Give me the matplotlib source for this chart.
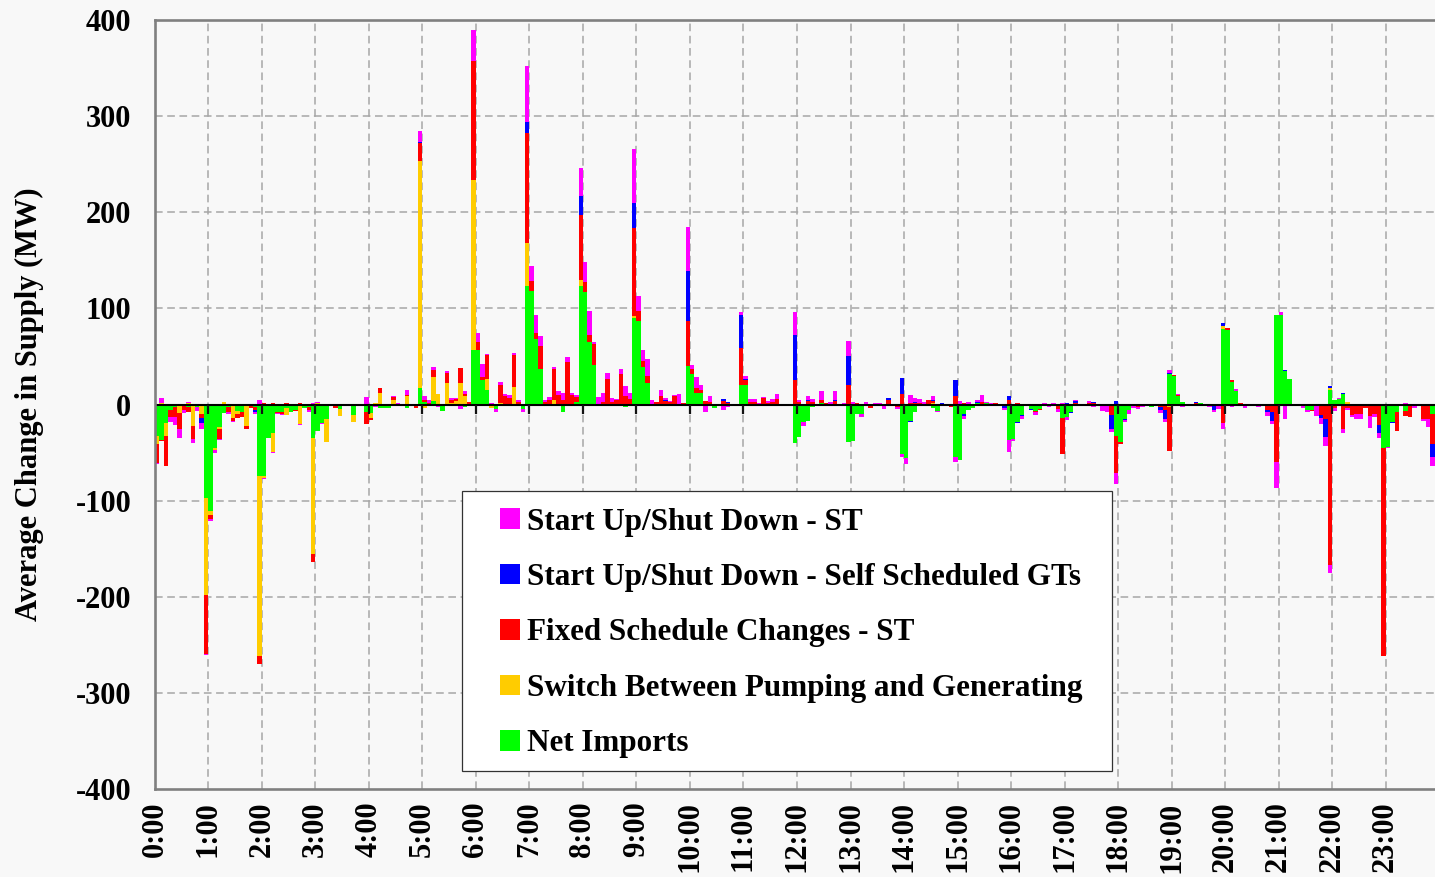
import matplotlib.pyplot as plt
import numpy as np
from matplotlib.patches import Patch, Rectangle

plt.rcParams["font.family"] = ["Liberation Serif", "DejaVu Serif"]
plt.rcParams["font.weight"] = "bold"

HOUR_LABELS = [f"{h}:00" for h in range(24)]
Y_TICKS = [-400, -300, -200, -100, 0, 100, 200, 300, 400]

# Average change in supply (MW) per 5-minute interval, one row per hour (12 intervals)
net_imports = [
    [-33, -37, -19, -6, -3, -2, -1, -3, -2, -3, -2, -97],
    [-111, -45, -23, -9, -3, -2, -7, -8, -2, -2, -3, -74],
    [-74, -35, -30, -8, -8, -4, -8, -6, -2, -4, -3, -35],
    [-28, -19, -15, -2, -1, -5, 0, 0, -11, 0, -2, -8],
    [-9, 0, -4, -4, -4, 0, 0, 0, -4, 0, 0, 17],
    [3, 1, 4, 0, -7, -2, 0, 0, 0, -3, 0, 57],
    [57, 25, 15, -2, -5, 0, 0, 0, 0, 0, -5, 123],
    [118, 68, 37, 0, 0, 0, 0, -8, 0, 0, 3, 123],
    [117, 65, 41, 0, 0, 0, -2, 0, 0, -3, 0, 90],
    [87, 39, 22, 0, 0, 0, 0, 0, 0, 0, 0, 40],
    [32, 12, 12, 0, 0, -4, -2, 0, 0, 0, 0, 20],
    [20, 0, 0, 0, -2, 0, 0, 0, 0, 0, -1, -40],
    [-34, -18, -17, -3, 0, 2, 1, 0, 0, 0, 0, -39],
    [-38, -10, -10, 0, 0, 0, 0, 0, 0, 0, -1, -52],
    [-56, -17, -8, 0, 0, 0, -4, -7, 0, -1, 0, -55],
    [-58, -10, -6, -4, 2, 0, 2, 0, 0, 0, -1, -37],
    [-36, -18, -11, 0, -5, -7, -5, 0, 0, 0, 0, -14],
    [-13, -8, 0, 0, 0, 0, 0, 0, 0, 0, 0, -33],
    [-39, -15, -6, -1, 0, 0, -2, -3, 0, 0, 0, 32],
    [30, 9, 3, 0, 0, 0, 2, 0, 0, 0, 0, 79],
    [78, 23, 14, 0, -2, 0, 0, 0, 0, 0, 0, 93],
    [93, 35, 27, 0, 0, 0, -6, -6, 0, 0, 0, 15],
    [5, 6, 11, 0, 0, 0, -2, 0, 0, 1, 0, -45],
    [-44, -18, -8, 0, -7, 0, -2, 0, 0, -2, -10, -10],
]
pump_gen = [
    [-8, 2, -14, 0, 0, -7, 0, 2, -20, 0, -8, -101],
    [-4, -2, -3, 3, 0, -12, -3, 0, -20, 0, 0, -188],
    [-2, 0, -19, 0, 0, -7, 0, 0, -18, 0, 0, -121],
    [2, 0, -24, 0, 0, -7, 0, 0, -7, 0, 0, 0],
    [-5, 2, 12, 0, 0, 5, 0, 0, 9, 0, 0, 236],
    [-4, 0, 25, 11, 0, 22, 2, 4, 22, 9, 0, 177],
    [0, 0, 12, -2, 0, 2, 0, 0, 18, 0, 0, 45],
    [0, 0, 0, 0, 0, 5, 0, 0, 0, 0, 0, 7],
    [0, 0, 0, 0, 0, 0, 0, 0, 0, 0, 0, 2],
    [0, 0, 0, 0, 0, 0, 0, 0, 0, 0, 0, 0],
    [0, 0, 0, 0, 0, 0, 0, 0, 0, 0, 0, 0],
    [0, 0, 0, 0, 0, 0, 0, 0, 0, 0, 0, 0],
    [0, 0, 0, 0, 0, 0, 0, 0, 0, 0, 0, 0],
    [0, 0, 0, 0, 0, 0, 0, 0, 0, 0, 0, 0],
    [0, 0, 0, 0, 0, 0, 2, 0, 0, 0, 0, 0],
    [0, 0, 0, 0, 0, 0, 0, 0, 0, 0, 0, 0],
    [0, 0, 0, 0, 0, 0, 0, 0, 0, 0, 0, 0],
    [0, 0, 0, 0, 0, 0, 0, 0, 0, 0, 0, 0],
    [0, 0, 0, 0, 0, 0, 0, 0, 0, 0, 0, -3],
    [0, 0, 0, 0, 0, 0, 0, 0, 0, 0, 0, 3],
    [0, 0, 0, 0, 0, 0, 0, 0, 0, 0, 0, 0],
    [0, 0, 0, 0, 0, 0, 0, 0, 0, 0, 0, 2],
    [0, 0, -2, 3, 0, 0, 0, 0, 0, 0, 0, 0],
    [0, 0, 0, 0, 0, 0, 0, 0, 0, 0, 0, 0],
]
fixed_st = [
    [-20, -1, -31, -7, -10, -17, -5, -5, -14, 0, -4, -62],
    [-4, 0, -10, 0, -5, -3, -4, -5, -4, -2, -3, -8],
    [2, 0, 2, -1, -2, 2, 0, -1, 2, 1, -3, -8],
    [0, 0, 0, 0, -3, 0, 0, 0, 0, 0, 0, -12],
    [-2, 0, 5, 0, 0, 3, 0, 0, 1, 0, -4, 19],
    [2, 1, 7, 0, 0, 11, 3, 2, 16, 2, 3, 123],
    [8, 4, 24, 0, 0, 18, 9, 7, 33, 3, 0, 114],
    [10, 6, 24, 3, 5, 32, 10, 5, 44, 10, 5, 67],
    [10, 7, 22, 0, 3, 27, 3, 5, 32, 9, 6, 92],
    [10, 6, 8, 0, 3, 9, 4, 3, 9, 0, 2, 47],
    [5, 5, 3, 4, 3, 0, 0, 4, 2, 0, 1, 39],
    [6, 3, 3, 0, 7, 2, 3, 6, 1, 1, 0, 26],
    [3, 0, 4, 3, -1, 3, 1, 1, 4, 0, 0, 20],
    [0, 2, 0, 0, -4, 0, 1, 0, 5, 0, -2, 11],
    [0, 2, 2, 2, 0, 5, 2, 0, 0, 0, -3, 9],
    [0, 2, 1, 0, 0, 3, 0, 0, 2, 0, 0, 5],
    [0, 2, 0, 0, 0, -1, -1, 0, 0, 0, -5, -38],
    [1, 0, 2, 0, -1, 2, 2, 0, 0, 0, -11, -38],
    [-2, 0, 0, 0, -3, 0, 0, 0, -2, -3, -6, -45],
    [1, 1, 0, 0, 0, 2, 0, 0, 1, -2, -1, -19],
    [2, 3, 0, 2, 0, 1, 1, 0, -2, -6, -8, -60],
    [-2, 0, 0, 1, 0, 0, 0, -1, 0, -11, -15, -167],
    [-4, -2, -24, -4, -11, -10, -8, -4, -12, -10, -21, -217],
    [0, 0, -20, 0, -5, -13, 0, -2, -15, -13, -31, -20],
]
self_sched_gt = [
    [0, 0, 0, 0, 0, 0, 0, 0, 0, 0, -5, 0],
    [0, 0, 0, 0, 0, 0, 0, 0, 0, 0, -2, 0],
    [0, 0, 0, 0, 0, 0, 0, 0, 0, 0, 0, 0],
    [0, 0, 0, 0, 0, 0, 0, 0, 0, 0, 0, 1],
    [0, 0, 0, 0, 0, 0, 0, 0, 0, 0, 0, 1],
    [0, 0, 0, 0, 0, 0, 0, 0, 0, 0, 0, 0],
    [0, 0, 0, 0, 0, 0, 0, 0, 0, 0, 0, 12],
    [0, 0, 0, 0, 0, 0, 0, 0, 0, 0, 0, 20],
    [0, 0, 0, 0, 0, 0, 0, 0, 0, 0, 0, 26],
    [0, 0, -2, 0, 0, 0, 1, 0, -2, 0, 0, 52],
    [-1, 0, 0, -2, 0, 0, 0, 2, 1, -2, 0, 34],
    [1, 0, 0, 0, 0, 0, -2, 0, 0, 0, 0, 46],
    [0, 0, 1, 0, 0, 0, 0, 0, 1, 0, 0, 30],
    [0, 0, 0, 0, 0, 0, -2, -1, 2, -2, 0, 17],
    [0, -1, 1, -2, 0, 0, 1, 0, 2, 0, 0, 17],
    [0, -2, 0, 0, 1, 0, 0, -1, -2, 0, -3, 4],
    [0, -1, -1, 0, -1, 0, 0, -2, 1, -1, 0, 0],
    [1, -1, 2, 1, 0, 0, 1, 0, 0, -2, -14, 4],
    [0, -1, 0, 0, 0, 0, 0, 0, 0, -3, -9, 1],
    [0, 0, 0, 0, 0, 1, 0, 0, 0, -4, 0, 3],
    [0, 0, 0, 0, 0, 0, 0, 0, 0, -2, -9, 0],
    [0, 1, 0, 0, -1, 0, 0, 0, 0, -3, -19, 2],
    [0, 0, 1, 0, 0, 0, 0, 0, 0, 0, -9, 1],
    [0, -1, 0, 0, 0, 0, 0, 0, 0, 0, -14, -5],
]
startup_st = [
    [-1, 5, 0, -5, -8, -9, -3, 1, -4, -4, -7, -1],
    [-2, -3, -1, 0, -2, -1, 1, 0, 0, 0, -2, 5],
    [-2, 0, -1, -1, -1, 0, 0, 0, -1, 0, -2, 2],
    [1, -1, 1, 0, 0, 0, -1, 1, 1, 1, 1, 7],
    [0, -3, 0, 0, 0, 1, 2, 1, 5, 1, 0, 12],
    [4, 3, 3, -3, 1, 2, 2, 1, -5, 3, 0, 33],
    [9, 13, 2, 2, -3, 3, 2, 3, 3, 2, -3, 58],
    [16, 19, 10, 2, 3, 2, 4, 7, 5, 2, 2, 29],
    [21, 25, 2, 8, 9, 6, 4, 1, 5, 10, 6, 56],
    [16, 12, 17, 5, 0, 6, 2, 1, 1, 11, -2, 46],
    [4, 12, 5, -6, 6, 0, 0, -6, -3, 0, 0, 3],
    [3, 3, 3, 2, 1, 2, 3, 5, 0, -1, 0, 24],
    [2, -4, 4, 3, 0, 9, 0, 2, 9, -2, 2, 16],
    [3, 0, -3, 3, 0, 2, 1, -4, 0, 0, -2, -3],
    [-6, 8, 4, 4, 3, 0, 4, -1, 0, 0, 0, -5],
    [4, -3, 2, 0, 2, 7, 1, 2, 0, -1, -2, -12],
    [-2, 0, -3, 1, 0, -3, 0, 2, -3, 2, -3, 2],
    [-3, 0, 1, 0, 0, 2, -3, -2, -7, -6, -4, -12],
    [0, -2, -4, -3, -2, -3, 0, 0, 0, -3, -3, 3],
    [0, 1, -3, 0, 0, 0, 0, -2, -3, -2, -4, -6],
    [0, -3, 2, 0, -2, 0, 0, -3, 0, -4, -3, -27],
    [3, -15, 0, 0, 1, -4, -2, 0, -12, -6, -9, -8],
    [-3, 1, -4, -2, -2, -5, -5, 0, -12, -3, -5, 0],
    [-1, 1, 0, 1, 2, 0, -2, 0, -2, -8, -9, -5],
]

# stacking order from the zero line outwards
SERIES = [
    ("Net Imports", net_imports, "#00ff00"),
    ("Switch Between Pumping and Generating", pump_gen, "#ffcc00"),
    ("Fixed Schedule Changes - ST", fixed_st, "#ff0000"),
    ("Start Up/Shut Down - Self Scheduled GTs", self_sched_gt, "#0000ff"),
    ("Start Up/Shut Down - ST", startup_st, "#ff00ff"),
]

BG = "#f8f8f8"
FRAME = "#808080"
GRIDC = "#a6a6a6"

W, H = 1435, 877
fig = plt.figure(figsize=(W / 100, H / 100), dpi=100, facecolor=BG)
# plot area runs past the right edge of the picture, as in the original export
ax = fig.add_axes([154.9 / W, 88 / H, 1284.2 / W, 769 / H])
ax.set_facecolor(BG)

n = 24 * 12
x = np.arange(n) / 12.0
pos_base = np.zeros(n)
neg_base = np.zeros(n)
for name, rows, color in SERIES:
    v = np.asarray(rows, dtype=float).ravel()
    pos = np.where(v > 0, v, 0)
    neg = np.where(v < 0, v, 0)
    ax.bar(x, pos, bottom=pos_base, width=1 / 12, align="edge", color=color,
           linewidth=0, antialiased=False, zorder=3)
    ax.bar(x, neg, bottom=neg_base, width=1 / 12, align="edge", color=color,
           linewidth=0, antialiased=False, zorder=3)
    pos_base += pos
    neg_base += neg

ax.set_xlim(0, 24)
ax.set_ylim(-400, 400)

# dashed grid
dash = (0, (5, 3))
for h in range(1, 24):
    ax.axvline(h, color=GRIDC, lw=1.1, ls=dash, zorder=1)
for yv in Y_TICKS[1:-1]:
    if yv != 0:
        ax.axhline(yv, color=GRIDC, lw=1.1, ls=dash, zorder=1)

# zero line with hour tick marks
ax.axhline(0, color="black", lw=1.5, zorder=5)
ax.vlines(np.arange(24), -10, 0, color="#111111", lw=1.6, zorder=5)

ax.set_xticks(np.arange(24))
ax.set_xticklabels(HOUR_LABELS, rotation=90, fontsize=22, fontweight="bold")
ax.set_yticks(Y_TICKS)
ax.set_yticklabels([str(t) for t in Y_TICKS], fontsize=22, fontweight="bold")
ax.tick_params(axis="x", length=0, pad=9)
ax.tick_params(axis="y", length=0, pad=17)
ax.set_ylabel("Average Change in Supply (MW)", fontsize=22, fontweight="bold")
ax.yaxis.set_label_coords(-0.0865, 0.5)

for s in ["left", "top", "bottom", "right"]:
    ax.spines[s].set_color(FRAME)
    ax.spines[s].set_linewidth(1.9)
    ax.spines[s].set_zorder(6)

# legend box
ax.add_patch(Rectangle((0.239, 0.0234), 0.506, 0.364, transform=ax.transAxes,
                       facecolor="white", edgecolor="#333333", lw=0.9, zorder=7))
handles = [Patch(facecolor=c, edgecolor="none", label=nm) for nm, _, c in reversed(SERIES)]
leg = ax.legend(handles=handles, loc="upper left", bbox_to_anchor=(0.2687, 0.366),
                frameon=False, prop={"weight": "bold", "size": 22.4},
                handlelength=0.64, handleheight=0.64, handletextpad=0.22,
                labelspacing=0.85, borderpad=0, borderaxespad=0)
leg.set_zorder(8)

fig.savefig("out.png", dpi=100, facecolor=BG)
